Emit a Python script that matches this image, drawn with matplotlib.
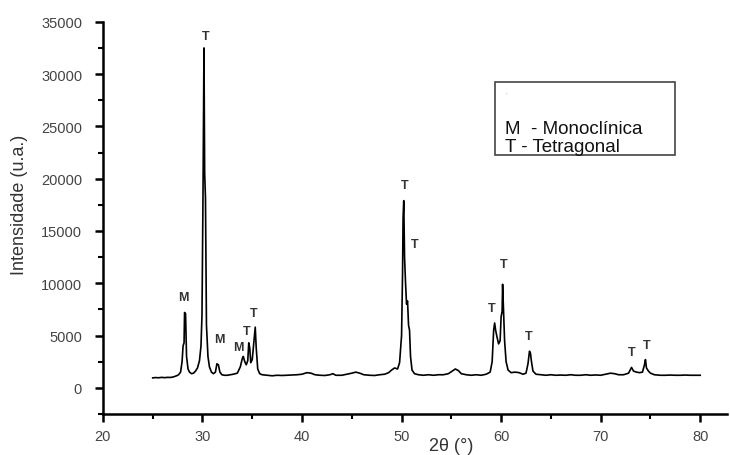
import matplotlib
matplotlib.use("Agg")
import matplotlib.pyplot as plt
from matplotlib.ticker import MultipleLocator
from matplotlib.patches import Rectangle

# ---------- Data ---------- #
two_theta = [25.0, 25.3, 25.6, 25.9, 26.2, 26.5, 26.8, 27.1, 27.4, 27.6,
             27.8, 27.95, 28.05, 28.15, 28.2, 28.3, 28.4, 28.55, 28.7, 28.9,
             29.1, 29.3, 29.5, 29.7, 29.85, 29.95, 30.05, 30.15, 30.22, 30.3,
             30.4, 30.55, 30.7, 30.9, 31.1, 31.3, 31.45, 31.6, 31.75, 31.95,
             32.2, 32.5, 32.8, 33.1, 33.5, 33.8, 34.0, 34.1, 34.25, 34.4,
             34.55, 34.65, 34.75, 34.85, 35.0, 35.15, 35.3, 35.4, 35.55, 35.75,
             36.0, 36.5, 37.0, 37.5, 38.0, 38.5, 39.0, 39.5, 40.0, 40.5,
             40.9, 41.3, 41.8, 42.3, 42.8, 43.1, 43.4, 44.0, 44.5, 45.0,
             45.4, 45.8, 46.2, 46.8, 47.3, 47.8, 48.3, 48.7, 49.0, 49.3,
             49.6, 49.8, 50.0, 50.1, 50.15, 50.22, 50.3, 50.4, 50.5, 50.6,
             50.7, 50.8, 50.9, 51.05, 51.3, 51.7, 52.2, 52.7, 53.2, 53.7,
             54.2, 54.7, 55.1, 55.4, 55.7, 56.0, 56.5, 57.0, 57.5, 58.0,
             58.5, 58.9, 59.1, 59.25, 59.35, 59.45, 59.6, 59.75, 59.9, 60.0,
             60.1, 60.15, 60.25, 60.35, 60.5, 60.7, 61.0, 61.4, 61.8, 62.2,
             62.5, 62.7, 62.85, 62.95, 63.05, 63.2, 63.5, 64.0, 64.5, 65.0,
             65.5, 66.0, 66.5, 67.0, 67.5, 68.0, 68.5, 69.0, 69.5, 70.0,
             70.5, 71.0, 71.4, 71.8, 72.3, 72.8, 73.1, 73.3, 73.6, 73.9,
             74.2, 74.4, 74.5, 74.6, 74.8, 75.0, 75.4, 76.0, 76.5, 77.0,
             77.5, 78.0, 78.5, 79.0, 79.5, 80.0]
intensity = [950, 980, 960, 1000, 970, 1000, 990, 1050, 1150, 1250,
             1500, 2500, 4000, 4300, 7200, 7100, 3000, 1800, 1500, 1350,
             1400, 1600, 1900, 2600, 4000, 6900, 18000, 32500, 20500, 18200,
             6000, 3000, 2000, 1500, 1350, 1500, 2300, 2200, 1500, 1250,
             1200, 1200, 1250, 1300, 1400, 2000, 2800, 3000, 2500, 2200,
             2600, 4300, 3800, 2400, 2700, 4200, 5800, 3800, 1800, 1350,
             1250, 1200, 1150, 1200, 1180, 1200, 1220, 1250, 1300, 1450,
             1400, 1250, 1200, 1180, 1250, 1350, 1200, 1200, 1300, 1400,
             1500, 1400, 1250, 1200, 1180, 1250, 1300, 1450, 1700, 1900,
             1800, 2400, 5000, 11000, 16200, 17900, 12500, 10000, 8000, 8300,
             6000, 5500, 3000, 1700, 1350, 1250, 1200, 1250, 1200, 1250,
             1250, 1350, 1600, 1800, 1650, 1350, 1250, 1200, 1250, 1200,
             1300, 1500, 2500, 5500, 6200, 5500, 4800, 4200, 4500, 6800,
             7300, 9900, 7200, 4500, 2500, 1700, 1450, 1500, 1450, 1300,
             1400, 2300, 3500, 3300, 2500, 1600, 1300, 1250, 1200, 1250,
             1200, 1220, 1200, 1250, 1200, 1200, 1250, 1200, 1230, 1200,
             1300, 1400, 1350, 1250, 1250, 1400, 1950, 1600, 1500, 1450,
             1500, 2200, 2700, 1900, 1600, 1400, 1250, 1200, 1200, 1220,
             1200, 1200, 1220, 1200, 1200, 1200]

# peak labels: position and phase letter
label_x = [28.1, 30.3, 31.7, 33.6, 34.4, 35.1, 50.3, 51.3, 59.1, 60.3, 62.8, 73.1, 74.6]
label_y = [8700, 33600, 4700, 3900, 5400, 7200, 19400, 13800, 7600, 11800, 5000, 3400, 4100]
label_txt = ["M", "T", "M", "M", "T", "T", "T", "T", "T", "T", "T", "T", "T"]

legend_lines = ["M  - Monoclínica", "T - Tetragonal"]

# ---------- Plotting ---------- #
plt.rcParams['font.family'] = ['Liberation Sans', 'DejaVu Sans']
fig = plt.figure(figsize=(7.3, 4.56), dpi=100)
ax = fig.add_axes([0.141, 0.09, 0.855, 0.86])

ax.plot(two_theta, intensity, color="black", lw=1.2)

for x, y, t in zip(label_x, label_y, label_txt):
    ax.text(x, y, t, ha="center", va="center", fontsize=9, fontweight="bold", color="#333333")

ax.set_xlim(20, 82.7)
ax.set_ylim(-2500, 35000)
ax.xaxis.set_major_locator(MultipleLocator(10))
ax.xaxis.set_minor_locator(MultipleLocator(5))
ax.yaxis.set_major_locator(MultipleLocator(5000))
ax.yaxis.set_minor_locator(MultipleLocator(2500))

for s in ["top", "right"]:
    ax.spines[s].set_visible(False)
for s in ["left", "bottom"]:
    ax.spines[s].set_linewidth(1.8)

ax.tick_params(which="major", length=6, width=1.8, labelsize=10.5, labelcolor="#444444")
ax.tick_params(which="minor", length=3.5, width=1.5)
ax.tick_params(axis="y", pad=9)
ax.tick_params(axis="x", pad=5)

# axis titles
fig.text(451 / 730, 1 - 447 / 456, "2θ (°)", fontsize=13, color="#333333", ha="center", va="center")
fig.text(20 / 730, 1 - 205 / 456, "Intensidade (u.a.)", fontsize=13, color="#333333",
         ha="center", va="center", rotation=90)

# legend-like box (pixel layout converted to figure fraction)
fig.patches.append(Rectangle((495 / 730, 1 - 156 / 456), 180 / 730, 73 / 456,
                             transform=fig.transFigure, fc="white", ec="#444444", lw=1.2))
fig.text(505 / 730, 1 - 96 / 456, "'", fontsize=6, color="#e0b060", ha="left", va="center")
fig.text(505 / 730, 1 - 130 / 456, legend_lines[0], fontsize=13.5, color="#111111",
         ha="left", va="center")
fig.text(505 / 730, 1 - 147 / 456, legend_lines[1], fontsize=13.5, color="#111111",
         ha="left", va="center")

fig.savefig("out.png", dpi=100)
